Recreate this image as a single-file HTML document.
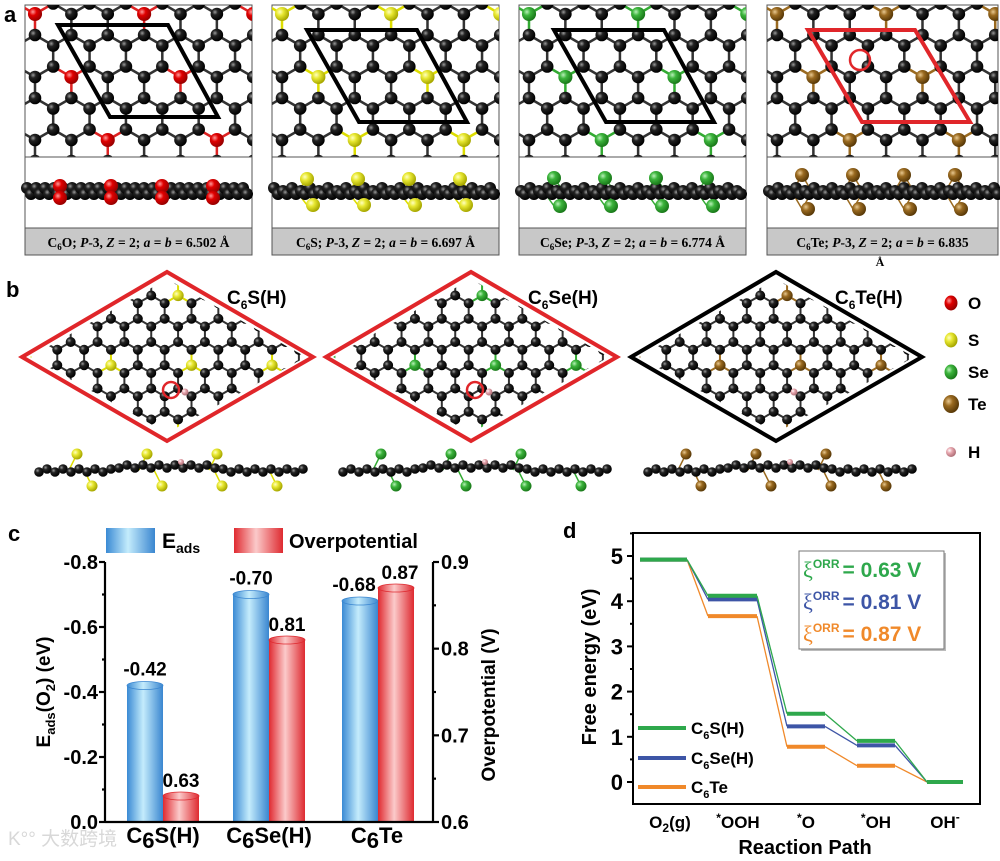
<!DOCTYPE html>
<html><head><meta charset="utf-8">
<style>
body{margin:0;background:#fff;}
svg{display:block;font-family:"Liberation Sans",Arial,sans-serif;}
.b{font-weight:bold;}
.ser{font-family:"Liberation Serif",serif;font-weight:bold;}
</style></head>
<body>
<svg id="fig" width="1000" height="861" viewBox="0 0 1000 861" xmlns="http://www.w3.org/2000/svg">
<defs>
<radialGradient id="gC" cx="35%" cy="35%" r="65%"><stop offset="0" stop-color="#9a9a9a"/><stop offset="0.35" stop-color="#222"/><stop offset="1" stop-color="#000"/></radialGradient>
<radialGradient id="gO" cx="35%" cy="35%" r="65%"><stop offset="0" stop-color="#ff9a9a"/><stop offset="0.4" stop-color="#e00000"/><stop offset="1" stop-color="#900"/></radialGradient>
<radialGradient id="gS" cx="35%" cy="35%" r="65%"><stop offset="0" stop-color="#ffffc0"/><stop offset="0.4" stop-color="#e8e832"/><stop offset="1" stop-color="#a8a800"/></radialGradient>
<radialGradient id="gSe" cx="35%" cy="35%" r="65%"><stop offset="0" stop-color="#b8f0b8"/><stop offset="0.4" stop-color="#3cb43c"/><stop offset="1" stop-color="#1a7a1a"/></radialGradient>
<radialGradient id="gTe" cx="35%" cy="35%" r="65%"><stop offset="0" stop-color="#e8c890"/><stop offset="0.4" stop-color="#9a6a20"/><stop offset="1" stop-color="#5a3a08"/></radialGradient>
<radialGradient id="gH" cx="35%" cy="35%" r="65%"><stop offset="0" stop-color="#fff"/><stop offset="0.4" stop-color="#e8a8b0"/><stop offset="1" stop-color="#b07078"/></radialGradient>
<linearGradient id="gBlue" x1="0" x2="1"><stop offset="0" stop-color="#3a8ad4"/><stop offset="0.45" stop-color="#c4ecfc"/><stop offset="1" stop-color="#3a86d0"/></linearGradient>
<linearGradient id="gRed" x1="0" x2="1"><stop offset="0" stop-color="#e02a30"/><stop offset="0.45" stop-color="#fbcaca"/><stop offset="1" stop-color="#de2a30"/></linearGradient>
<clipPath id="cA0"><rect x="25" y="5" width="227" height="152"/></clipPath>
<clipPath id="cA1"><rect x="272" y="5" width="227" height="152"/></clipPath>
<clipPath id="cA2"><rect x="519" y="5" width="227" height="152"/></clipPath>
<clipPath id="cA3"><rect x="767" y="5" width="231" height="152"/></clipPath>
<clipPath id="cB0"><polygon points="30,357 167,279 306,357 167,433"/></clipPath>
<clipPath id="cB1"><polygon points="333,357 471,279 609,357 471,433"/></clipPath>
<clipPath id="cB2"><polygon points="639,357 776,279 914,357 776,433"/></clipPath>
</defs>
<g id="panelA"></g>
<g id="panelB"></g>
<g id="panelC"></g>
<g id="panelD"></g>
</svg>
<script>
// ---------- chart data ----------
const barCategories = ["C6S(H)", "C6Se(H)", "C6Te"];
const eadsValues = [-0.42, -0.70, -0.68];
const overpotValues = [0.63, 0.81, 0.87];
const eadsLabels = ["-0.42", "-0.70", "-0.68"];
const overpotLabels = ["0.63", "0.81", "0.87"];
const leftTicks = [-0.8, -0.6, -0.4, -0.2, 0.0];
const leftTickLabels = ["-0.8", "-0.6", "-0.4", "-0.2", "0.0"];
const rightTicks = [0.6, 0.7, 0.8, 0.9];
const rightTickLabels = ["0.6", "0.7", "0.8", "0.9"];

const pathSteps = ["O2(g)", "*OOH", "*O", "*OH", "OH-"];
const seriesNames = ["C6S(H)", "C6Se(H)", "C6Te"];
const energyS = [4.92, 4.12, 1.51, 0.91, 0.0];
const energySe = [4.92, 4.04, 1.23, 0.81, 0.0];
const energyTe = [4.92, 3.67, 0.78, 0.36, 0.0];
const energyTicks = [0, 1, 2, 3, 4, 5];
const xiLabels = ["= 0.63 V", "= 0.81 V", "= 0.87 V"];

const NS = "http://www.w3.org/2000/svg";
function mk(tag, attrs, parent, txt) {
  const e = document.createElementNS(NS, tag);
  for (const k in attrs) e.setAttribute(k, attrs[k]);
  if (txt !== undefined) e.textContent = txt;
  parent.appendChild(e);
  return e;
}
const COL = {C: "url(#gC)", O: "url(#gO)", S: "url(#gS)", Se: "url(#gSe)", Te: "url(#gTe)", H: "url(#gH)"};
const BOND = {C: "#333", O: "#d22", S: "#dd0", Se: "#3a3", Te: "#9a6a20"};

function lattice(g, ox, oy, L, r, het, clipId, xr, yr, pat) {
  const gg = mk("g", {"clip-path": "url(#" + clipId + ")"}, g);
  
  
  const w = Math.sqrt(3) * L;
  const atoms = [];
  for (let j = -2; j < yr; j++) for (let i = -3; i < xr; i++) {
    const x = ox + i * w + j * w / 2 - Math.floor(j / 2) * w;
    const y = oy + j * 1.5 * L;
    const hA = pat(i, j, 0), hB = pat(i, j, 1);
    atoms.push([x, y, hA ? het : "C"], [x, y + L, hB ? het : "C"]);
  }
  const bg = mk("g", {}, gg);
  for (let a = 0; a < atoms.length; a++) for (let b = a + 1; b < atoms.length; b++) {
    const dx = atoms[a][0] - atoms[b][0], dy = atoms[a][1] - atoms[b][1];
    if (dx * dx + dy * dy < L * L * 1.05) {
      const t = atoms[a][2] !== "C" ? atoms[a][2] : atoms[b][2];
      mk("line", {x1: atoms[a][0], y1: atoms[a][1], x2: atoms[b][0], y2: atoms[b][1], stroke: t === "C" ? "#333" : BOND[t], "stroke-width": r * 0.4}, bg);
    }
  }
  atoms.forEach(a => {
    const c = mk("circle", {cx: a[0], cy: a[1], r: a[2] === "C" ? r : r * 1.12, fill: COL[a[2]]}, gg);
    
    
  });
}
const patA = (i, j, s) => s === 0 && ((j % 2 + 2) % 2 === 0) && (((i + j) % 3 + 3) % 3 === 0);
const patB = (i, j, s) => s === 1 && ((j % 3 + 3) % 3 === 0) && (((i * 2 + j) % 3 + 3) % 3 === 0);

// ---------- panel a ----------
const pA = document.getElementById("panelA");
mk("text", {x: 4, y: 22, "font-size": 22, class: "b"}, pA, "a");
const boxesA = [
  {x: 25, w: 227, el: "O", cap: ["C", "6", "O; ", "P", "-3, ", "Z", " = 2; ", "a", " = ", "b", " = 6.502 Å"], cell: "#000", cellPts: [[33,25],[143,25],[193,117],[85,117]]},
  {x: 272, w: 227, el: "S", cap: ["C", "6", "S; ", "P", "-3, ", "Z", " = 2; ", "a", " = ", "b", " = 6.697 Å"], cell: "#000", cellPts: [[35,30],[145,30],[195,122],[87,122]]},
  {x: 519, w: 227, el: "Se", cap: ["C", "6", "Se; ", "P", "-3, ", "Z", " = 2; ", "a", " = ", "b", " = 6.774 Å"], cell: "#000", cellPts: [[35,30],[145,30],[195,122],[87,122]]},
  {x: 767, w: 231, el: "Te", cap: ["C", "6", "Te; ", "P", "-3, ", "Z", " = 2; ", "a", " = ", "b", " = 6.835"], cell: "#e0262a", cellPts: [[41,30],[148,30],[203,122],[95,122]]}
];
boxesA.forEach((bx, k) => {
  const g = mk("g", {}, pA);
  
  
  mk("rect", {x: bx.x, y: 5, width: bx.w, height: 250, fill: "#fff", stroke: "#555", "stroke-width": 1}, g);
  lattice(g, bx.x + 10, 14, 21, 6.3, bx.el, "cA" + k, 9, 8, patA);
  mk("polygon", {points: bx.cellPts.map(p => (bx.x + p[0]) + "," + p[1]).join(" "), fill: "none", stroke: bx.cell, "stroke-width": 4}, g);
  if (bx.el === "Te") mk("circle", {cx: 860, cy: 60, r: 10, fill: "none", stroke: "#e0262a", "stroke-width": 2.5}, g);
  mk("line", {x1: bx.x, y1: 157, x2: bx.x + bx.w, y2: 157, stroke: "#555"}, g);
  const sv = mk("g", {}, g);
  
  
  const off = bx.el === "O" ? 6 : bx.el === "S" ? 13 : bx.el === "Se" ? 14 : 17;
  for (let q = 0; q < 4; q++) {
    const hx = bx.x + 35 + q * 51;
    mk("line", {x1: hx, y1: 192 - off, x2: hx - 10, y2: 192, stroke: BOND[bx.el], "stroke-width": 1.5}, sv);
    mk("line", {x1: hx, y1: 192 - off, x2: hx + 10, y2: 192, stroke: BOND[bx.el], "stroke-width": 1.5}, sv);
    mk("line", {x1: hx, y1: 192 + off, x2: hx - 10, y2: 192, stroke: BOND[bx.el], "stroke-width": 1.5}, sv);
    mk("line", {x1: hx, y1: 192 + off, x2: hx + 10, y2: 192, stroke: BOND[bx.el], "stroke-width": 1.5}, sv);
  }
  for (let xx = bx.x + 2; xx < bx.x + bx.w - 2; xx += 9) {
    mk("circle", {cx: xx, cy: 188 + ((xx / 9) % 2 > 1 ? 3 : 0), r: 6, fill: COL.C}, sv);
    mk("circle", {cx: xx + 4, cy: 194, r: 6, fill: COL.C}, sv);
  }
  for (let q = 0; q < 4; q++) {
    const hx = bx.x + 35 + q * 51;
    mk("circle", {cx: hx, cy: 192 - off, r: 7, fill: COL[bx.el]}, sv);
    mk("circle", {cx: hx + (bx.el === "O" ? 0 : 6), cy: 192 + off, r: 7, fill: COL[bx.el]}, sv);
  }
  mk("rect", {x: bx.x, y: 228, width: bx.w, height: 27, fill: "#c8c8c8", stroke: "#555", "stroke-width": 1}, g);
  const t = mk("text", {x: bx.x + bx.w / 2, y: 247, "font-size": 13.5, class: "ser", "text-anchor": "middle"}, g);
  
  
  bx.cap.forEach((s, i) => {
    const ts = mk("tspan", {}, t, s);
    if (i === 1) { ts.setAttribute("font-size", "9"); ts.setAttribute("dy", "3"); }
    if (i === 2) ts.setAttribute("dy", "-3");
    if ([3, 5, 7, 9].includes(i)) ts.setAttribute("font-style", "italic");
  });
  if (bx.el === "Te") mk("text", {x: 880, y: 266, "font-size": 12, class: "ser", "text-anchor": "middle"}, g, "Å");
});

// ---------- panel b ----------
const pB = document.getElementById("panelB");
mk("text", {x: 6, y: 297, "font-size": 22, class: "b"}, pB, "b");
const dia = [
  {cx: 167, el: "S", col: "#e0262a", sub: "S(H)", lx: 227},
  {cx: 471, el: "Se", col: "#e0262a", sub: "Se(H)", lx: 528},
  {cx: 776, el: "Te", col: "#000", sub: "Te(H)", lx: 835}
];
dia.forEach((d, k) => {
  const g = mk("g", {}, pB);
  
  
  lattice(g, d.cx - 150, 280, 15.5, 5, d.el, "cB" + k, 18, 12, patB);
  mk("polygon", {points: [[d.cx - 145, 357], [d.cx, 272], [d.cx + 146, 357], [d.cx, 441]].map(p => p.join(",")).join(" "), fill: "none", stroke: d.col, "stroke-width": 4}, g);
  mk("circle", {cx: d.cx + 18, cy: 392, r: 3.5, fill: COL.H}, g);
  if (d.el !== "Te") mk("circle", {cx: d.cx + 4, cy: 390, r: 8, fill: "none", stroke: "#e0262a", "stroke-width": 2.5}, g);
  const t = mk("text", {x: d.lx, y: 304, "font-size": 19, class: "b"}, g);
  
  
  mk("tspan", {}, t, "C");
  mk("tspan", {"font-size": 12, dy: 5}, t, "6");
  mk("tspan", {dy: -5}, t, d.sub);
  const sv = mk("g", {}, g);
  
  
  const x0 = d.cx - 128, x1 = d.cx + 136;
  const hets = [[-90, -1], [-75, 1], [-20, -1], [-5, 1], [55, 1], [50, -1], [110, 1]];
  hets.forEach(h => mk("line", {x1: d.cx + h[0] - 8, y1: 470, x2: d.cx + h[0], y2: 470 + h[1] * 16, stroke: BOND[d.el], "stroke-width": 1.5}, sv));
  for (let xx = x0; xx <= x1; xx += 8) {
    const bump = Math.abs(xx - d.cx) < 50 ? -4 : 0;
    mk("circle", {cx: xx, cy: 470 + bump + (Math.round(xx / 8) % 2 ? 2 : -1), r: 4.8, fill: COL.C}, sv);
  }
  hets.forEach(h => mk("circle", {cx: d.cx + h[0], cy: 470 + h[1] * 16, r: 5.5, fill: COL[d.el]}, sv));
  mk("circle", {cx: d.cx + 14, cy: 462, r: 3, fill: COL.H}, sv);
});
const legEl = [["O", 303], ["S", 340], ["Se", 372], ["Te", 404], ["H", 452]];
legEl.forEach(l => {
  const g = mk("g", {}, pB);
  
  
  mk("ellipse", {cx: 951, cy: l[1], rx: l[0] === "H" ? 5 : l[0] === "Te" ? 8 : 6.5, ry: l[0] === "H" ? 5 : l[0] === "Te" ? 9 : 7.5, fill: COL[l[0]]}, g);
  mk("text", {x: 968, y: l[1] + 6, "font-size": 17, class: "b"}, g, l[0]);
});

// ---------- panel c ----------
const pC = document.getElementById("panelC");
const cL = 105, cR = 433, cT = 562, cB = 822;
const yLeft = v => cB - (v / -0.8) * (cB - cT);
const yRight = v => cB - (v - 0.6) / 0.3 * (cB - cT);
mk("text", {x: 8, y: 541, "font-size": 22, class: "b"}, pC, "c");
function cyl(g, x, w, yTop, fill, edge) {
  mk("rect", {x: x, y: yTop, width: w, height: cB - yTop, fill: fill}, g);
  mk("ellipse", {cx: x + w / 2, cy: yTop, rx: w / 2, ry: 4, fill: fill, stroke: edge, "stroke-width": 0.8}, g);
}
const lg1 = mk("g", {}, pC);  
mk("rect", {x: 106, y: 528, width: 49, height: 25, fill: "url(#gBlue)"}, lg1);
const le = mk("text", {x: 162, y: 548, "font-size": 21, class: "b"}, lg1, "E");
mk("tspan", {"font-size": 14, dy: 5}, le, "ads");
const lg2 = mk("g", {}, pC);  
mk("rect", {x: 234, y: 528, width: 49, height: 25, fill: "url(#gRed)"}, lg2);
mk("text", {x: 289, y: 548, "font-size": 20, class: "b"}, lg2, "Overpotential");
barCategories.forEach((c, i) => {
  const g = mk("g", {}, pC);
  
  
  const bx = [127, 233, 342][i];
  const yb = yLeft(eadsValues[i]);
  const yr = yRight(overpotValues[i]);
  const b1 = mk("g", {}, g);  
  cyl(b1, bx, 36, yb, "url(#gBlue)", "#3a86d0");
  const b2 = mk("g", {}, g);  
  cyl(b2, bx + 36, 36, yr, "url(#gRed)", "#de2a30");
  mk("text", {x: bx + (i === 2 ? 12 : 18), y: yb - 10, "font-size": 19, class: "b", "text-anchor": "middle"}, g, eadsLabels[i]);
  mk("text", {x: bx + 54 + (i === 2 ? 4 : 0), y: yr - 9, "font-size": 19, class: "b", "text-anchor": "middle"}, g, overpotLabels[i]);
  const t = mk("text", {x: [163, 269, 377][i], y: 843, "font-size": 22, class: "b", "text-anchor": "middle"}, g);
  
  
  mk("tspan", {}, t, "C");
  mk("tspan", {dy: 5}, t, "6");
  mk("tspan", {dy: -5}, t, c.slice(2));
});
const ax = mk("g", {stroke: "#000", "stroke-width": 2.2, fill: "none"}, pC);


mk("line", {x1: cL, y1: cT, x2: cL, y2: cB}, ax);
mk("line", {x1: cR, y1: cT, x2: cR, y2: cB}, ax);
mk("line", {x1: cL, y1: cB, x2: cR, y2: cB}, ax);
leftTicks.forEach((v, i) => {
  const y = yLeft(v);
  mk("line", {x1: cL - 6, y1: y, x2: cL, y2: y}, ax);
  if (i < leftTicks.length - 1) mk("line", {x1: cL - 3, y1: y + (cB - cT) / 8, x2: cL, y2: y + (cB - cT) / 8}, ax);
  mk("text", {x: cL - 7, y: y + 7, "font-size": 20, class: "b", "text-anchor": "end", stroke: "none", fill: "#000"}, pC, leftTickLabels[i]);
});
rightTicks.forEach((v, i) => {
  const y = yRight(v);
  mk("line", {x1: cR, y1: y, x2: cR + 6, y2: y}, ax);
  if (i > 0) mk("line", {x1: cR, y1: y + (cB - cT) / 6, x2: cR + 3, y2: y + (cB - cT) / 6}, ax);
  mk("text", {x: cR + 8, y: y + 7, "font-size": 20, class: "b", stroke: "none", fill: "#000"}, pC, rightTickLabels[i]);
});
const yt = mk("text", {transform: "translate(50,692) rotate(-90)", "font-size": 19, class: "b", "text-anchor": "middle"}, pC);

mk("tspan", {}, yt, "E"); mk("tspan", {"font-size": 13, dy: 5}, yt, "ads"); mk("tspan", {dy: -5}, yt, "(O");
mk("tspan", {"font-size": 13, dy: 5}, yt, "2"); mk("tspan", {dy: -5}, yt, ") (eV)");
mk("text", {transform: "translate(495,705) rotate(-90)", "font-size": 19, class: "b", "text-anchor": "middle"}, pC, "Overpotential (V)");
mk("text", {x: 8, y: 845, "font-size": 19, fill: "#d8d8d8", "font-family": "'Liberation Sans','Noto Sans CJK SC',sans-serif"}, pC, "K°° 大数跨境");

// ---------- panel d ----------
const pD = document.getElementById("panelD");
const dL = 633, dR = 980, dT = 533, dB = 804;
const yE = v => 782 - v * 45.2;
const stepL = [640, 708, 787, 857, 927], stepR = [687, 757, 825, 895, 963];
mk("text", {x: 563, y: 538, "font-size": 22, class: "b"}, pD, "d");
const series = [[energyTe, "#f0892a"], [energySe, "#3d55a6"], [energyS, "#2ea84c"]];
series.forEach((s, si) => {
  const g = mk("g", {}, pD);
  
  
  s[0].forEach((v, i) => {
    mk("line", {x1: stepL[i], y1: yE(v), x2: stepR[i], y2: yE(v), stroke: s[1], "stroke-width": 4}, g);
    if (i < s[0].length - 1) mk("line", {x1: stepR[i], y1: yE(v), x2: stepL[i + 1], y2: yE(s[0][i + 1]), stroke: s[1], "stroke-width": 1.3}, g);
  });
});
const ax2 = mk("g", {stroke: "#000", "stroke-width": 2, fill: "none"}, pD);


mk("rect", {x: dL, y: dT, width: dR - dL, height: dB - dT}, ax2);
energyTicks.forEach(v => {
  mk("line", {x1: dL - 6, y1: yE(v), x2: dL, y2: yE(v)}, ax2);
  mk("line", {x1: dL - 3, y1: yE(v + 0.5), x2: dL, y2: yE(v + 0.5)}, ax2);
  mk("text", {x: dL - 10, y: yE(v) + 8, "font-size": 22, class: "b", "text-anchor": "end", stroke: "none", fill: "#000"}, pD, String(v));
});
pathSteps.forEach((s, i) => {
  const cx = [670, 738, 806, 876, 945][i];
  const t = mk("text", {x: cx, y: 828, "font-size": 17, class: "b", "text-anchor": "middle"}, pD);
  
  
  if (i === 0) { mk("tspan", {}, t, "O"); mk("tspan", {"font-size": 12, dy: 4}, t, "2"); mk("tspan", {dy: -4}, t, "(g)"); }
  else if (i === 4) { mk("tspan", {}, t, "OH"); mk("tspan", {"font-size": 12, dy: -7}, t, "-"); }
  else { mk("tspan", {"font-size": 12, dy: -6}, t, "*"); mk("tspan", {dy: 6}, t, s.slice(1)); }
});
mk("text", {x: 805, y: 854, "font-size": 20, class: "b", "text-anchor": "middle"}, pD, "Reaction Path");
mk("text", {transform: "translate(596,667) rotate(-90)", "font-size": 20, class: "b", "text-anchor": "middle"}, pD, "Free energy (eV)");
const bxg = mk("g", {}, pD);


mk("rect", {x: 801, y: 553, width: 145, height: 98, fill: "#bbb"}, bxg);
mk("rect", {x: 799, y: 551, width: 145, height: 98, fill: "#fff", stroke: "#777", "stroke-width": 1}, bxg);
const xiCols = ["#2ea84c", "#3d55a6", "#f0892a"];
xiLabels.forEach((l, i) => {
  const y = 577 + i * 32;
  const t = mk("text", {x: 803, y: y, "font-size": 21, class: "b", fill: xiCols[i]}, bxg);
  
  
  mk("tspan", {"font-family": "'Liberation Serif',serif", "font-weight": "normal", "font-size": 22}, t, "ξ");
  mk("tspan", {"font-size": 12, dy: -9}, t, "ORR");
  mk("tspan", {dy: 9, dx: 3}, t, l);
});
const legD = [["S(H)", "#2ea84c", 728], ["Se(H)", "#3d55a6", 758], ["Te", "#f0892a", 787]];
legD.forEach(l => {
  const g = mk("g", {}, pD);
  
  
  mk("line", {x1: 638, y1: l[2], x2: 686, y2: l[2], stroke: l[1], "stroke-width": 4}, g);
  const t = mk("text", {x: 691, y: l[2] + 6, "font-size": 17, class: "b"}, g);
  mk("tspan", {}, t, "C"); mk("tspan", {"font-size": 11, dy: 5}, t, "6"); mk("tspan", {dy: -5}, t, l[0]);
});
</script>
</body></html>
